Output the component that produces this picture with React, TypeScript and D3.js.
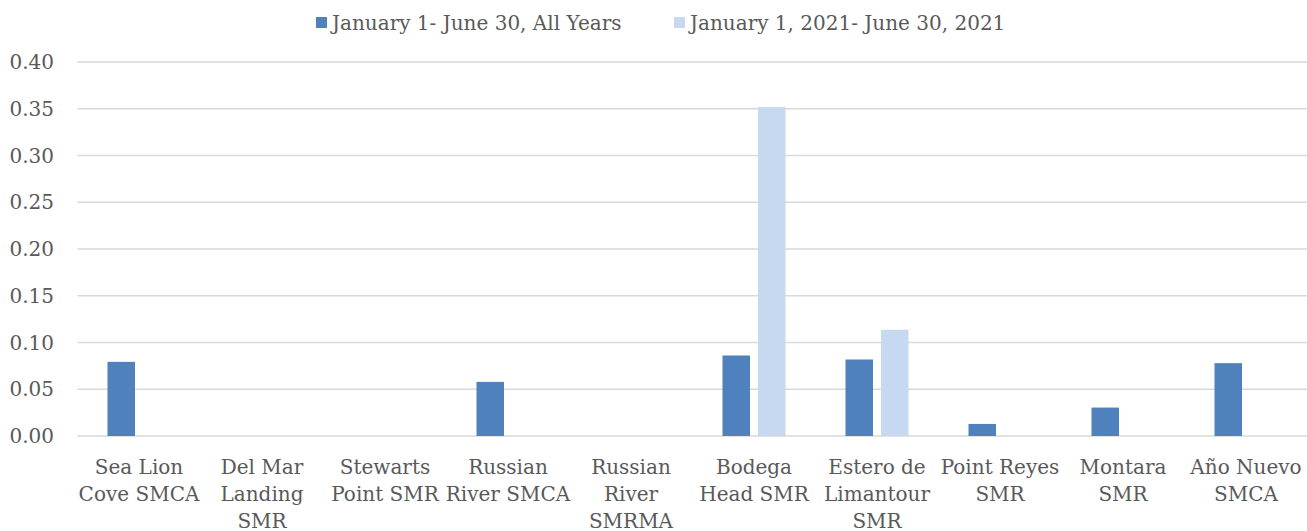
import React from "react";
import * as d3 from "d3";

const categories = [
  "Sea Lion Cove SMCA",
  "Del Mar Landing SMR",
  "Stewarts Point SMR",
  "Russian River SMCA",
  "Russian River SMRMA",
  "Bodega Head SMR",
  "Estero de Limantour SMR",
  "Point Reyes SMR",
  "Montara SMR",
  "Año Nuevo SMCA",
];
const categoryLines = [
  ["Sea Lion", "Cove SMCA"],
  ["Del Mar", "Landing", "SMR"],
  ["Stewarts", "Point SMR"],
  ["Russian", "River SMCA"],
  ["Russian", "River", "SMRMA"],
  ["Bodega", "Head SMR"],
  ["Estero de", "Limantour", "SMR"],
  ["Point Reyes", "SMR"],
  ["Montara", "SMR"],
  ["Año Nuevo", "SMCA"],
];
const seriesNames = ["January 1- June 30, All Years", "January 1, 2021- June 30, 2021"];
const allYears = [0.0793, 0, 0, 0.0579, 0, 0.0861, 0.0818, 0.0129, 0.0304, 0.0779];
const year2021 = [0, 0, 0, 0, 0, 0.3518, 0.1136, 0, 0, 0];
const yTicks = [0, 0.05, 0.1, 0.15, 0.2, 0.25, 0.3, 0.35, 0.4];
const colors = ["#4F81BD", "#C6D9F1"];

const W = 1307;
const H = 531;
const FONT = "'DejaVu Serif', serif";
const TEXT = "#595959";

export default function App() {
  const left = 77.5;
  const right = 1307.5;
  const top = 62;
  const bottom = 436;
  const x0 = d3.scaleBand<string>().domain(categories).range([left, right]).padding(0);
  const x1 = d3
    .scaleBand<number>()
    .domain([0, 1])
    .range([0, x0.bandwidth()])
    .paddingInner(0.225)
    .paddingOuter(0.845);
  const y = d3.scaleLinear().domain([0, 0.4]).range([bottom, top]);
  const series = [allYears, year2021];
  const fmt = d3.format(".2f");
  const fs = 20;

  return (
    <svg
      width={W}
      height={H}
      style={{ position: "absolute", left: 0, top: 0, background: "#fff", fontFamily: FONT }}
    >
      {yTicks.map((t) => (
        <g key={t}>
          <line x1={left} x2={right} y1={y(t)} y2={y(t)} stroke="#D9D9D9" strokeWidth={1.5} />
          <text x={54} y={y(t)} dy="0.35em" textAnchor="end" fontSize={fs} fill={TEXT} style={{ fontFamily: FONT }}>
            {fmt(t)}
          </text>
        </g>
      ))}
      {series.map((vals, si) =>
        vals.map((v, i) => {
          if (v <= 0) return null;
          const xx = (x0(categories[i]) as number) + (x1(si) as number);
          return (
            <rect
              key={`${si}-${i}`}
              x={xx}
              y={y(v)}
              width={x1.bandwidth()}
              height={y(0) - y(v)}
              fill={colors[si]}
            />
          );
        })
      )}
      {categories.map((c, i) => {
        const cx = (x0(c) as number) + x0.bandwidth() / 2;
        return (
          <text key={c} x={cx} textAnchor="middle" fontSize={fs} fill={TEXT} style={{ fontFamily: FONT }}>
            {categoryLines[i].map((ln, k) => (
              <tspan key={k} x={cx} y={474 + k * 27}>
                {ln}
              </tspan>
            ))}
          </text>
        );
      })}
      {seriesNames.map((s, si) => {
        const lx = si === 0 ? 316 : 674;
        return (
          <g key={s}>
            <rect x={lx} y={17} width={11} height={11} fill={colors[si]} />
            <text x={lx + 16} y={30} fontSize={fs} fill={TEXT} style={{ fontFamily: FONT }}>
              {s}
            </text>
          </g>
        );
      })}
    </svg>
  );
}
